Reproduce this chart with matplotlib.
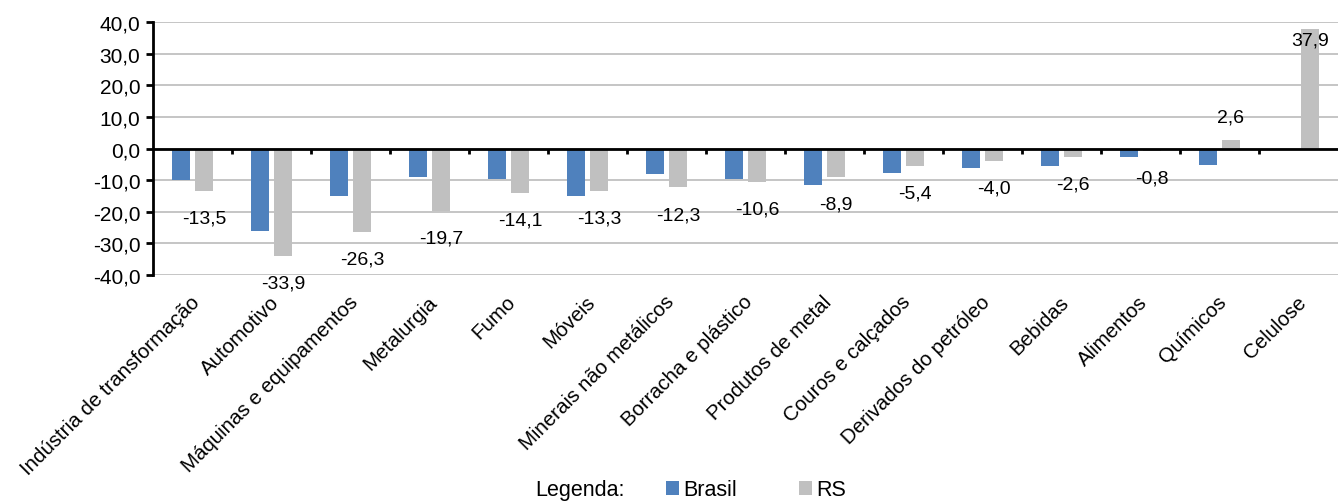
import matplotlib
matplotlib.use("Agg")
import matplotlib.pyplot as plt
import numpy as np

plt.rcParams['font.family'] = ['Liberation Sans', 'DejaVu Sans']

categorias = ["Indústria de transformação", "Automotivo", "Máquinas e equipamentos",
              "Metalurgia", "Fumo", "Móveis", "Minerais não metálicos",
              "Borracha e plástico", "Produtos de metal", "Couros e calçados",
              "Derivados do petróleo", "Bebidas", "Alimentos", "Químicos", "Celulose"]
brasil = [-9.9, -25.9, -14.9, -9.0, -9.5, -15.0, -8.1, -9.5, -11.6, -7.6,
          -6.1, -5.5, -2.5, -5.2, 0.0]
rs = [-13.5, -33.9, -26.3, -19.7, -14.1, -13.3, -12.3, -10.6, -8.9, -5.4,
      -4.0, -2.6, -0.8, 2.6, 37.9]

azul = "#4F81BD"
cinza = "#C0C0C0"

fig = plt.figure(figsize=(13.38, 5.02), dpi=100)
ax = fig.add_axes([0.1143, 0.450, 0.8857, 0.504])

x = np.arange(len(categorias))
w = 0.23
ax.bar(x - 0.145, brasil, w, color=azul, zorder=3, label="Brasil")
ax.bar(x + 0.145, rs, w, color=cinza, zorder=3, label="RS")

# rótulos de dados (só RS)
for xi, v in zip(x, rs):
    s = f"{v:.1f}".replace(".", ",")
    if v >= 0:
        y = v + 7.5 if v + 7 < 38 else v - 3.5
    else:
        y = v - 8.6
    ax.text(xi + 0.145, y, s, ha="center", va="center", fontsize=14, zorder=4)

ax.set_xlim(-0.5, len(categorias) - 0.5)
ax.set_ylim(-40, 40)
yt = np.arange(-40, 41, 10)
ax.set_yticks(yt)
ax.set_yticklabels([f"{t:.1f}".replace(".", ",") for t in yt], fontsize=15)
ax.yaxis.grid(True, color="#c0c0c0", linewidth=1.3, zorder=0)
ax.tick_params(axis="y", length=5, width=2, direction="out", pad=4)

ax.set_xticks(x - 0.03)
ax.set_xticklabels(categorias, rotation=45, ha="right", va="top",
                   rotation_mode="anchor", fontsize=14.8)
ax.tick_params(axis="x", length=0, pad=12)

for sp in ["top", "right", "bottom"]:
    ax.spines[sp].set_visible(False)
ax.spines["left"].set_linewidth(2)

# eixo zero com marcas entre categorias
ax.axhline(0, color="black", linewidth=2, zorder=5)
ax.vlines(np.arange(0.5, len(categorias) - 0.5, 1), -1.6, 0, color="black",
          linewidth=2, zorder=5)

fig.text(0.4, 0.022, "Legenda:", fontsize=15.5, ha="left", va="center")
fig.legend(loc="center", bbox_to_anchor=(0.565, 0.022), ncol=2, frameon=False,
           fontsize=15.5, handlelength=0.6, handleheight=0.6, handletextpad=0.2,
           columnspacing=2.9, borderpad=0)

fig.savefig("out.png", dpi=100)
